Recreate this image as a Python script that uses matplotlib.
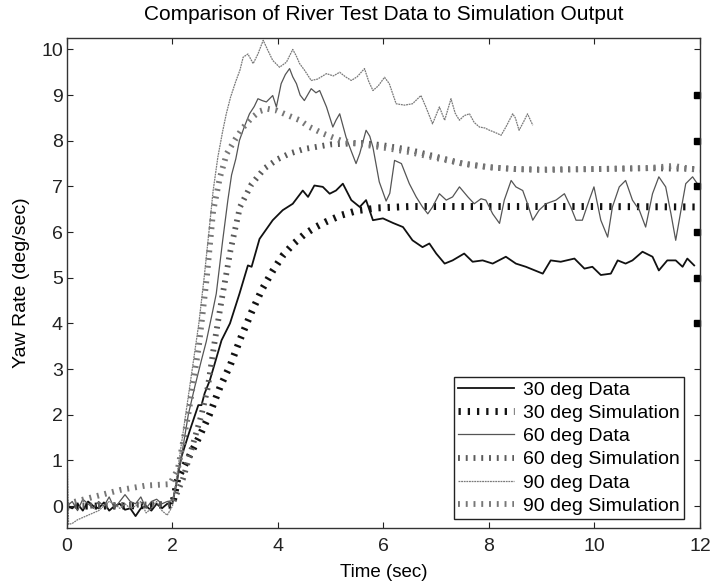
import matplotlib
matplotlib.use('Agg')
import matplotlib.pyplot as plt
from matplotlib.transforms import ScaledTranslation

plt.rcParams['font.family'] = ['Liberation Sans', 'DejaVu Sans']

# ---------------- data ----------------
t30_data = [0.0, 0.1, 0.2, 0.3, 0.4, 0.5, 0.6, 0.7, 0.8, 0.9, 1.0, 1.1, 1.2, 1.3, 1.4, 1.5, 1.6, 1.7, 1.8, 1.9, 2.0,
            2.17, 2.33, 2.49, 2.55, 2.61, 2.71, 2.93, 3.09, 3.27, 3.43, 3.5, 3.65, 3.9, 4.09, 4.28, 4.47, 4.57, 4.69,
            4.85, 4.98, 5.1, 5.23, 5.39, 5.55, 5.67, 5.8, 5.99, 6.18, 6.37, 6.55, 6.74, 6.87, 7.0, 7.16, 7.31, 7.53,
            7.69, 7.88, 8.07, 8.32, 8.51, 8.7, 9.02, 9.17, 9.36, 9.62, 9.81, 9.96, 10.12, 10.31, 10.44, 10.59, 10.72,
            10.91, 11.1, 11.22, 11.38, 11.54, 11.67, 11.76, 11.89]
y30_data = [0.0, -0.05, 0.05, -0.1, 0.1, 0.0, -0.05, 0.08, -0.1, 0.0, 0.05, -0.08, -0.05, -0.22, -0.05, 0.0, -0.1, 0.05, -0.05, 0.05, 0.06,
            1.08, 1.66, 2.21, 2.21, 2.47, 2.76, 3.63, 4.0, 4.65, 5.27, 5.24, 5.85, 6.26, 6.48, 6.62, 6.91, 6.77, 7.02,
            6.99, 6.84, 6.91, 7.06, 6.7, 6.55, 6.7, 6.26, 6.3, 6.2, 6.11, 5.82, 5.67, 5.75, 5.53, 5.31, 5.38, 5.53,
            5.35, 5.38, 5.31, 5.46, 5.31, 5.24, 5.09, 5.38, 5.35, 5.42, 5.2, 5.24, 5.06, 5.09, 5.38, 5.31, 5.38,
            5.57, 5.46, 5.16, 5.38, 5.38, 5.24, 5.42, 5.27]

t30_sim = [0.0, 1.0, 2.0, 2.1, 2.3, 2.5, 2.7, 2.9, 3.1, 3.3, 3.5, 3.7, 3.9, 4.1, 4.3, 4.5, 4.7, 4.9, 5.2, 5.5,
           5.9, 6.5, 8.0, 10.0, 12.0]
y30_sim = [0.0, 0.0, 0.02, 0.6, 1.05, 1.5, 2.0, 2.6, 3.1, 3.7, 4.25, 4.75, 5.15, 5.5, 5.75, 5.95, 6.1, 6.22, 6.37, 6.47,
           6.53, 6.56, 6.56, 6.56, 6.55]

t60_data = [0.0, 0.1, 0.2, 0.3, 0.4, 0.5, 0.6, 0.7, 0.8, 0.9, 1.0, 1.1, 1.2, 1.3, 1.4, 1.5, 1.6, 1.7, 1.8, 1.9, 2.0,
            2.1, 2.2, 2.3, 2.42, 2.55, 2.64, 2.75, 2.83, 2.95, 3.05, 3.12, 3.2, 3.27, 3.36, 3.46, 3.55, 3.62, 3.7,
            3.78, 3.9, 3.97, 4.06, 4.14, 4.22, 4.28, 4.35, 4.42, 4.5, 4.63, 4.72, 4.79, 4.92, 5.04, 5.1, 5.17, 5.29,
            5.38, 5.48, 5.55, 5.67, 5.74, 5.8, 5.92, 6.05, 6.12, 6.21, 6.34, 6.49, 6.62, 6.74, 6.84, 6.93, 7.06,
            7.19, 7.31, 7.44, 7.6, 7.72, 7.85, 7.94, 8.07, 8.2, 8.29, 8.42, 8.51, 8.64, 8.73, 8.83, 8.95, 9.08,
            9.27, 9.43, 9.55, 9.65, 9.77, 9.9, 9.99, 10.12, 10.25, 10.34, 10.47, 10.59, 10.72, 10.85, 10.97, 11.1,
            11.22, 11.35, 11.45, 11.54, 11.64, 11.73, 11.86, 11.95]
y60_data = [0.0, 0.1, -0.1, 0.15, 0.05, -0.05, 0.1, 0.0, 0.2, -0.05, 0.1, 0.25, 0.1, 0.05, 0.2, -0.05, 0.1, 0.15, 0.05, 0.1, 0.12,
            0.6, 1.3, 2.0, 2.6, 3.2, 3.6, 4.2, 4.65, 5.8, 6.7, 7.25, 7.6, 8.01, 8.3, 8.59, 8.75, 8.92, 8.88,
            8.85, 8.99, 8.74, 9.25, 9.45, 9.58, 9.4, 9.25, 9.0, 8.88, 9.14, 9.05, 9.1, 8.74, 8.3, 8.45, 8.59, 8.08,
            7.8, 7.5, 7.72, 8.23, 8.1, 7.86, 7.1, 6.68, 6.85, 7.57, 7.5, 7.06, 6.77, 6.55, 6.4, 6.55, 6.84,
            6.7, 6.77, 6.99, 6.77, 6.62, 6.73, 6.7, 6.4, 6.19, 6.7, 7.13, 6.99, 6.91, 6.62, 6.26, 6.48, 6.62,
            6.7, 6.84, 6.55, 6.26, 6.26, 6.7, 6.99, 6.26, 5.89, 6.55, 6.99, 7.13, 6.7, 6.48, 6.11, 6.84,
            7.21, 6.99, 6.4, 5.82, 6.48, 7.06, 7.21, 7.06]

t60_sim = [0.0, 1.0, 2.0, 2.2, 2.4, 2.55, 2.67, 2.8, 2.93, 3.1, 3.28, 3.5, 3.75, 4.0, 4.22, 4.5, 5.0, 5.6, 6.0,
           6.5, 7.0, 7.5, 8.0, 8.5, 9.0, 10.0, 11.0, 12.0]
y60_sim = [0.0, 0.02, 0.05, 0.6, 1.4, 2.0, 2.6, 3.6, 4.5, 5.6, 6.55, 7.05, 7.4, 7.6, 7.72, 7.82, 7.92, 7.95, 7.9,
           7.8, 7.65, 7.5, 7.42, 7.38, 7.37, 7.38, 7.4, 7.38]

t90_data = [0.0, 0.03, 0.1, 0.2, 0.3, 0.4, 0.5, 0.6, 0.7, 0.8, 0.9, 1.0, 1.1, 1.2, 1.3, 1.4, 1.5, 1.6, 1.7, 1.8, 1.9, 2.0,
            2.1, 2.2, 2.3, 2.4, 2.5, 2.6, 2.7, 2.77, 2.86, 2.95, 3.02, 3.1, 3.2, 3.28, 3.34, 3.43, 3.53, 3.62, 3.72,
            3.8, 3.9, 4.03, 4.16, 4.28, 4.35, 4.41, 4.5, 4.63, 4.75, 4.92, 5.05, 5.17, 5.28, 5.39, 5.5, 5.64, 5.72,
            5.8, 5.9, 6.02, 6.11, 6.24, 6.4, 6.55, 6.71, 6.8, 6.93, 7.06, 7.16, 7.28, 7.36, 7.44, 7.53, 7.63, 7.72,
            7.82, 7.92, 8.01, 8.12, 8.23, 8.32, 8.45, 8.5, 8.57, 8.65, 8.73, 8.83]
y90_data = [1.3, -0.4, -0.38, -0.3, -0.25, -0.2, -0.15, -0.1, 0.0, 0.1, 0.05, -0.05, 0.05, -0.05, 0.0, 0.1, -0.15, -0.05, 0.1, -0.1, -0.2, 0.0,
            0.8, 1.6, 2.4, 3.2, 4.0, 5.0, 6.1, 6.9, 7.64, 8.2, 8.59, 8.95, 9.3, 9.55, 9.83, 9.9, 9.69, 9.9, 10.2,
            10.0, 9.76, 9.61, 9.72, 10.0, 9.85, 9.69, 9.55, 9.32, 9.35, 9.47, 9.42, 9.5, 9.4, 9.32, 9.4, 9.58, 9.3,
            9.1, 9.2, 9.39, 9.25, 8.81, 8.78, 8.81, 8.99, 8.75, 8.37, 8.74, 8.45, 8.92, 8.6, 8.45, 8.55, 8.59, 8.4,
            8.3, 8.28, 8.23, 8.18, 8.12, 8.3, 8.59, 8.5, 8.23, 8.4, 8.59, 8.34]

t90_sim = [0.0, 0.5, 1.0, 1.5, 1.95, 2.1, 2.3, 2.5, 2.65, 2.77, 2.9, 3.03, 3.2, 3.34, 3.5, 3.66, 3.8, 3.98, 4.2,
           4.41, 4.6, 4.85, 5.2, 5.6, 6.0, 6.5, 7.0, 7.5, 8.0, 8.5, 9.0, 10.0, 11.0, 11.5, 12.0]
y90_sim = [0.05, 0.2, 0.35, 0.45, 0.48, 0.8, 2.0, 3.5, 5.0, 6.45, 7.2, 7.72, 8.05, 8.29, 8.5, 8.65, 8.7, 8.66, 8.55,
           8.45, 8.3, 8.16, 8.0, 7.92, 7.85, 7.75, 7.62, 7.5, 7.42, 7.38, 7.36, 7.38, 7.4, 7.45, 7.35]

edge_marks_y = [4, 5, 6, 7, 8, 9]

labels = ['30 deg Data', '30 deg Simulation', '60 deg Data', '60 deg Simulation',
          '90 deg Data', '90 deg Simulation']
title = 'Comparison of River Test Data to Simulation Output'
xlabel = 'Time (sec)'
ylabel = 'Yaw Rate (deg/sec)'
xticks = [0, 2, 4, 6, 8, 10, 12]
yticks = [0, 1, 2, 3, 4, 5, 6, 7, 8, 9, 10]

# ---------------- figure ----------------
fig = plt.figure(figsize=(7.11, 5.82), dpi=100)
ax = fig.add_axes([0.0942, 0.0928, 0.8903, 0.8419])

sim_dash = (0, (0.33, 1.0))
ax.plot(t30_data, y30_data, color='#111111', lw=1.3, label=labels[0])
ax.plot(t30_sim, y30_sim, color='#111111', lw=5.0, linestyle=sim_dash, dash_capstyle='butt', label=labels[1])
ax.plot(t60_data, y60_data, color='#555555', lw=0.9, label=labels[2])
ax.plot(t60_sim, y60_sim, color='#5a5a5a', lw=4.2, linestyle=sim_dash, dash_capstyle='butt', label=labels[3])
ax.plot(t90_data, y90_data, color='#7a7a7a', lw=0.9, linestyle=(0, (1.5, 0.6)), label=labels[4])
ax.plot(t90_sim, y90_sim, color='#777777', lw=4.2, linestyle=sim_dash, dash_capstyle='butt', label=labels[5])

# black squares along the right edge
off = ax.transData + ScaledTranslation(-3.0 / 100, 0, fig.dpi_scale_trans)
ax.plot([12] * len(edge_marks_y), edge_marks_y, 's', color='black', ms=4.5, transform=off, clip_on=False)

ax.set_xlim(0, 12)
ax.set_ylim(-0.48, 10.25)
ax.set_xticks(xticks)
ax.set_yticks(yticks)
ax.tick_params(direction='in', top=True, right=True, length=4, width=0.8, labelsize=14, colors='#222222')
ax.tick_params(axis='x', pad=7)
ax.tick_params(axis='y', pad=3)
for s in ax.spines.values():
    s.set_linewidth(1.0)
    s.set_color('#333333')

ax.set_title(title, fontsize=15, pad=13)
ax.set_xlabel(xlabel, fontsize=13.5, labelpad=7)
ax.set_ylabel(ylabel, fontsize=14, labelpad=8)

leg = ax.legend(loc='lower right', bbox_to_anchor=(0.975, 0.018), fontsize=14, handlelength=2.9,
                labelspacing=0.29, borderpad=0.22, handletextpad=0.45, borderaxespad=0, fancybox=False,
                framealpha=1, edgecolor='#222222')
leg.get_frame().set_linewidth(1.0)

fig.savefig('out.png', dpi=100)
